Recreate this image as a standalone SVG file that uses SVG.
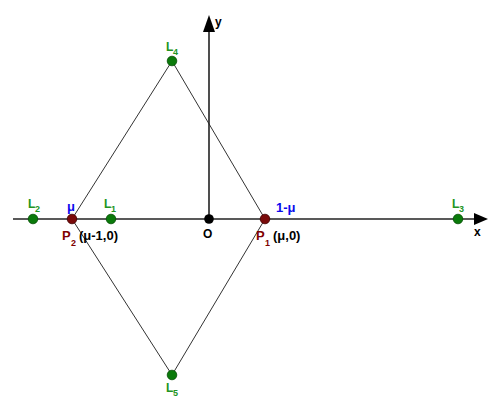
<svg xmlns="http://www.w3.org/2000/svg" width="500" height="407" viewBox="0 0 500 407">
<style>
text{font-family:"Liberation Sans",Arial,sans-serif;font-weight:bold;font-size:12px}
.g{fill:#229422}
.b{fill:#0a0aee}
.r{fill:#800000}
.k{fill:#000}
.sub{font-size:9px}
.axis{stroke:#222;stroke-width:1.6;fill:none}
.edge{stroke:#333;stroke-width:1;fill:none}
.gp{fill:#0a7a0a;stroke:#054d05;stroke-width:0.8}
.rp{fill:#7a0a0a;stroke:#3d0000;stroke-width:0.8}
.kp{fill:#000}
</style>
<g id="connectors">
<line class="edge" x1="172" y1="61" x2="72" y2="219"/>
<line class="edge" x1="172" y1="61" x2="265" y2="219"/>
<line class="edge" x1="72" y1="219" x2="172" y2="375"/>
<line class="edge" x1="265" y1="219" x2="172" y2="375"/>
</g>
<g id="axes">
<line class="axis" x1="13" y1="219" x2="476" y2="219"/>
<polygon points="474,213 488,219 474,225" fill="#000"/>
<line class="axis" x1="209" y1="219" x2="209" y2="30"/>
<polygon points="203,32 209,15 215,32" fill="#000"/>
<text class="k" x="474" y="236">x</text>
<text class="k" x="215" y="26">y</text>
</g>
<g id="O"><circle class="kp" cx="209" cy="219" r="4.8"/><text class="k" x="203" y="238">O</text></g>
<g id="P1"><circle class="rp" cx="265" cy="219" r="4.8"/><text class="r" x="256" y="240" style="font-size:13px">P</text><text class="r sub" x="265" y="246">1</text><text class="k" x="273" y="240" style="font-size:13px">(μ,0)</text><text class="b" x="276" y="212" style="font-size:13px">1-μ</text></g>
<g id="P2"><circle class="rp" cx="72" cy="219" r="4.8"/><text class="r" x="62" y="240" style="font-size:13px">P</text><text class="r sub" x="71" y="246">2</text><text class="k" x="79" y="240" style="font-size:13px">(μ-1,0)</text><text class="b" x="67" y="211" style="font-size:13px">μ</text></g>
<g id="L1"><circle class="gp" cx="111" cy="219" r="4.8"/><text class="g" x="104" y="208">L</text><text class="g sub" x="111" y="212">1</text></g>
<g id="L2"><circle class="gp" cx="33" cy="219" r="4.8"/><text class="g" x="28" y="208">L</text><text class="g sub" x="35" y="212">2</text></g>
<g id="L3"><circle class="gp" cx="458" cy="219" r="4.8"/><text class="g" x="452" y="208">L</text><text class="g sub" x="459" y="212">3</text></g>
<g id="L4"><circle class="gp" cx="172" cy="61" r="4.8"/><text class="g" x="166" y="51">L</text><text class="g sub" x="173" y="55">4</text></g>
<g id="L5"><circle class="gp" cx="172" cy="375" r="4.8"/><text class="g" x="166" y="392">L</text><text class="g sub" x="173" y="396">5</text></g>
</svg>
